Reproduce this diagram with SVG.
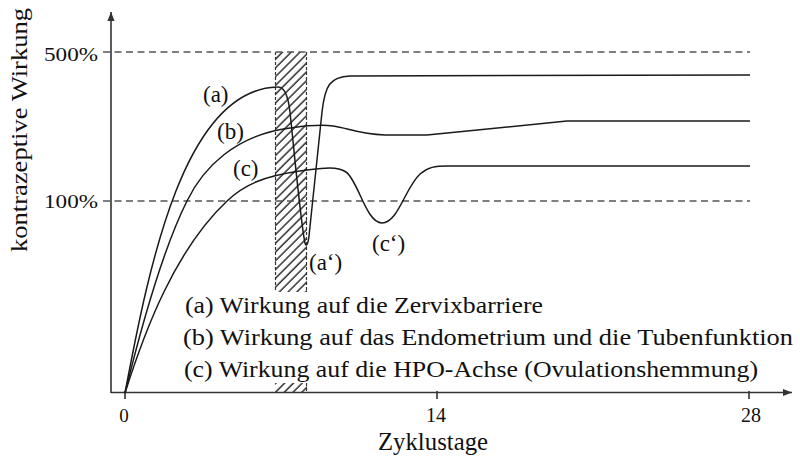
<svg xmlns="http://www.w3.org/2000/svg" width="800" height="463" viewBox="0 0 800 463">
<style>
.t{font-family:"Liberation Serif","Times New Roman",serif;fill:#111}
.ax{stroke:#333;stroke-width:1.6;fill:none}
.grid{stroke:#555;stroke-width:1.6;stroke-dasharray:7 4.5;fill:none}
.crv{stroke:#1a1a1a;stroke-width:1.5;fill:none;stroke-linejoin:round}
.edge{stroke:#333;stroke-width:1.2;stroke-dasharray:3 2;fill:none}
</style>
<defs>
<pattern id="hatch" patternUnits="userSpaceOnUse" width="6.2" height="6.2" patternTransform="rotate(45)">
<line x1="1" y1="0" x2="1" y2="6.2" stroke="#222" stroke-width="1.4"/>
</pattern>
<marker id="arr" viewBox="0 0 10 10" refX="10" refY="5" markerWidth="9" markerHeight="9" markerUnits="userSpaceOnUse" orient="auto">
<path d="M0,1 L10,5 L0,9 Z" fill="#333"/>
</marker>
</defs>
<rect width="800" height="463" fill="#fff"/>

<g id="hatch-area">
<rect x="275" y="52" width="32" height="240" fill="url(#hatch)"/>
<rect x="275" y="383" width="32" height="9" fill="url(#hatch)"/>
<line class="edge" x1="275.5" y1="52" x2="275.5" y2="292"/>
<line class="edge" x1="306.5" y1="52" x2="306.5" y2="292"/>
<line class="edge" x1="306.5" y1="383" x2="306.5" y2="392"/>
</g>

<g id="gridlines">
<line class="grid" x1="103" y1="52" x2="750" y2="52"/>
<line class="grid" x1="103" y1="201" x2="750" y2="201"/>
</g>

<g id="axes">
<line class="ax" x1="111" y1="393" x2="111" y2="12" marker-end="url(#arr)"/>
<line class="ax" x1="111" y1="392.5" x2="792" y2="392.5" marker-end="url(#arr)"/>
<line class="ax" x1="125" y1="391" x2="125" y2="399"/>
<line class="ax" x1="437" y1="391" x2="437" y2="399"/>
<line class="ax" x1="749" y1="391" x2="749" y2="399"/>
</g>

<g id="curves">
<path id="curve-a" class="crv" d="M125,393 C150,260 185,90 277,87 C284,86 288,95 290,112 C294,150 301,225 305,243 C306,247 308,245 309,236 L322,112 C325,85 330,77 350,76 L750,75"/>
<path id="curve-b" class="crv" d="M125,393 C138,340 160,255 187,201 C203,168 235,135 290,128 C300,126.7 318,124 333,126 C348,128 358,134 385,135 L427,135 L567,121 L750,121"/>
<path id="curve-c" class="crv" d="M125,393 C145,330 175,250 227,201 C245,184 265,176 300,171 C318,169 335,165 346,172 C358,180 366,223 382,223 C398,223 405,188 420,174 C428,167 435,166 448,166 L750,166"/>
</g>

<g id="axis-labels">
<text class="t" font-size="24" textLength="244" lengthAdjust="spacingAndGlyphs" transform="translate(27,252) rotate(-90)">kontrazeptive Wirkung</text>
<text class="t" font-size="19" x="98" y="61" text-anchor="end" textLength="54" lengthAdjust="spacingAndGlyphs">500%</text>
<text class="t" font-size="19" x="98" y="208" text-anchor="end" textLength="54" lengthAdjust="spacingAndGlyphs">100%</text>
<text class="t" font-size="19" x="124" y="422" text-anchor="middle">0</text>
<text class="t" font-size="20" x="436" y="422" text-anchor="middle">14</text>
<text class="t" font-size="20" x="751" y="422" text-anchor="middle">28</text>
<text class="t" font-size="25" x="378" y="450" textLength="110" lengthAdjust="spacingAndGlyphs">Zyklustage</text>
</g>

<g id="curve-labels">
<text class="t" font-size="23" x="203" y="102">(a)</text>
<text class="t" font-size="23" x="217" y="139">(b)</text>
<text class="t" font-size="23" x="233" y="176">(c)</text>
<text class="t" font-size="23" x="309" y="270">(a‘)</text>
<text class="t" font-size="23" x="372" y="251">(c‘)</text>
</g>

<g id="legend">
<text class="t" font-size="23" x="185" y="313" textLength="358" lengthAdjust="spacingAndGlyphs">(a) Wirkung auf die Zervixbarriere</text>
<text class="t" font-size="23" x="183" y="345" textLength="610" lengthAdjust="spacingAndGlyphs">(b) Wirkung auf das Endometrium und die Tubenfunktion</text>
<text class="t" font-size="23" x="184" y="377" textLength="574" lengthAdjust="spacingAndGlyphs">(c) Wirkung auf die HPO-Achse (Ovulationshemmung)</text>
</g>
</svg>
